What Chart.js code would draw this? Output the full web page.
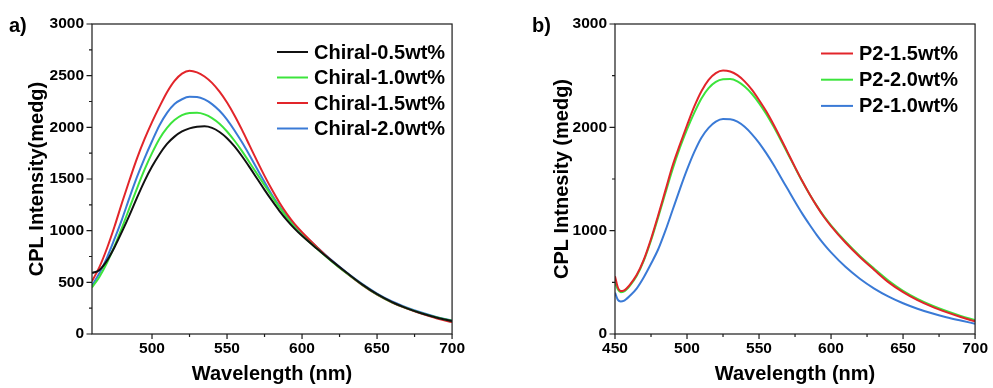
<!DOCTYPE html>
<html>
<head>
<meta charset="utf-8">
<script src="https://cdn.jsdelivr.net/npm/chart.js@4.4.1/dist/chart.umd.min.js"></script>
<style>
  html, body { margin: 0; padding: 0; background: #fff; }
  #wrap { position: relative; width: 993px; height: 388px; overflow: hidden; font-family: "Liberation Sans", Arial, sans-serif; }
  canvas { position: absolute; top: 0; }
  #chartA { left: 0; }
  #chartB { left: 500px; }
  .tag { position: absolute; top: 13px; font-weight: bold; font-size: 20px; line-height: 24px; color: #000; }
</style>
</head>
<body>
<div id="wrap">
  <canvas id="chartA" width="470" height="388"></canvas>
  <canvas id="chartB" width="493" height="388"></canvas>
  <div class="tag" style="left:9px">a)</div>
  <div class="tag" style="left:532px">b)</div>
</div>
<script>
// panel a: wavelength (nm)
const wavelengthA = [460, 465, 470, 475, 480, 485, 490, 495, 500, 505, 510, 515, 520, 525, 530, 535, 540, 545, 550, 555, 560, 565, 570, 575, 580, 585, 590, 595, 600,
  610, 620, 630, 640, 650, 660, 670, 680, 690, 700];
const chiral05 = [590, 620, 710, 840, 990, 1150, 1320, 1480, 1620, 1740, 1840, 1910, 1960, 1990, 2005, 2010, 1995, 1955, 1895, 1815, 1720, 1615, 1505, 1395, 1290, 1190, 1100, 1020, 950,
  825, 705, 590, 480, 385, 308, 248, 198, 158, 125];
const chiral10 = [450, 555, 690, 850, 1030, 1220, 1410, 1590, 1750, 1890, 1995, 2070, 2118, 2138, 2140, 2125, 2090, 2035, 1960, 1870, 1770, 1660, 1550, 1440, 1330, 1225, 1125, 1035, 955,
  825, 700, 585, 478, 383, 306, 248, 200, 160, 127];
const chiral15 = [510, 650, 830, 1040, 1270, 1490, 1700, 1885, 2050, 2200, 2340, 2450, 2520, 2548, 2532, 2492, 2430, 2345, 2240, 2115, 1975, 1825, 1675, 1530, 1395, 1270, 1160, 1065, 985,
  840, 705, 585, 475, 380, 305, 245, 195, 150, 115];
const chiral20 = [470, 590, 740, 920, 1110, 1320, 1520, 1700, 1865, 2020, 2140, 2225, 2272, 2295, 2293, 2270, 2225, 2160, 2075, 1970, 1855, 1730, 1600, 1470, 1345, 1235, 1135, 1050, 978,
  840, 710, 592, 485, 392, 315, 255, 205, 163, 130];

// panel b
const wavelengthB = [450, 452, 454, 456, 458, 460, 465, 470, 475, 480, 485, 490, 495, 500, 505, 510, 515, 520, 525, 530, 535, 540, 545, 550, 555, 560, 565, 570, 575, 580, 585, 590, 595, 600,
  610, 620, 630, 640, 650, 660, 670, 680, 690, 700];
const p2_15 = [560, 450, 415, 420, 440, 470, 570, 720, 920, 1150, 1390, 1630, 1830, 2020, 2200, 2350, 2460, 2525, 2550, 2540, 2505, 2445, 2365, 2265, 2155, 2030, 1895, 1755, 1615, 1480, 1355, 1240, 1135, 1045,
  885, 745, 620, 500, 405, 328, 265, 212, 165, 122];
const p2_20 = [500, 430, 405, 410, 430, 460, 560, 710, 905, 1130, 1365, 1595, 1800, 1980, 2140, 2280, 2380, 2440, 2465, 2468, 2445, 2395, 2325, 2235, 2130, 2010, 1880, 1745, 1610, 1478, 1355, 1242, 1140, 1052,
  895, 755, 632, 515, 418, 340, 276, 222, 175, 135];
const p2_10 = [400, 330, 315, 320, 340, 365, 440, 550, 680, 820, 1000, 1200, 1400, 1590, 1760, 1900, 1995, 2055, 2080, 2078, 2055, 2005, 1935, 1850, 1750, 1640, 1520, 1400, 1280, 1165, 1060, 960, 870, 790,
  650, 535, 440, 362, 298, 245, 200, 162, 130, 100];

const labelsA = ['Chiral-0.5wt%', 'Chiral-1.0wt%', 'Chiral-1.5wt%', 'Chiral-2.0wt%'];
const labelsB = ['P2-1.5wt%', 'P2-2.0wt%', 'P2-1.0wt%'];

// labelled ticks (the rest are minor)
const xLabelsA = [500, 550, 600, 650, 700];
const yLabelsA = [0, 500, 1000, 1500, 2000, 2500, 3000];
const xLabelsB = [450, 500, 550, 600, 650, 700];
const yLabelsB = [0, 1000, 2000, 3000];

const BLACK = '#111111', GREEN = '#3ce43c', RED = '#e2252a', BLUE = '#3a7ad6';
const FONT = '"Liberation Sans", Arial, sans-serif';

function pts(xs, ys) {
  return xs.map((x, i) => ({ x: x, y: ys[i] }));
}

function lineSet(label, xs, ys, color) {
  return {
    label: label,
    data: pts(xs, ys),
    borderColor: color,
    backgroundColor: color,
    borderWidth: 2,
    pointRadius: 0,
    cubicInterpolationMode: 'monotone',
    fill: false
  };
}

// frame on four sides + outward ticks, long for labelled, short for minor
const framePlugin = {
  id: 'frame',
  afterDraw(chart) {
    const { ctx, chartArea: a, scales } = chart;
    const x = scales.x, y = scales.y;
    ctx.save();
    ctx.strokeStyle = '#1a1a1a';
    ctx.lineWidth = 1.2;
    ctx.strokeRect(a.left, a.top, a.right - a.left, a.bottom - a.top);
    ctx.beginPath();
    x.ticks.forEach(t => {
      const px = x.getPixelForValue(t.value);
      const len = t.label ? 5 : 3;
      ctx.moveTo(px, a.bottom);
      ctx.lineTo(px, a.bottom + len);
    });
    y.ticks.forEach(t => {
      const py = y.getPixelForValue(t.value);
      const len = t.label ? 5.5 : 3;
      ctx.moveTo(a.left, py);
      ctx.lineTo(a.left - len, py);
    });
    ctx.stroke();
    ctx.restore();
  }
};

// legend drawn inside the plot, short line + bold label
const legendPlugin = {
  id: 'sideLegend',
  afterDraw(chart, args, opts) {
    const ctx = chart.ctx;
    ctx.save();
    ctx.font = 'bold ' + opts.size + 'px ' + FONT;
    ctx.textBaseline = 'middle';
    ctx.fillStyle = '#000';
    chart.data.datasets.forEach((ds, i) => {
      const yy = opts.top + i * opts.gap;
      ctx.strokeStyle = ds.borderColor;
      ctx.lineWidth = 2;
      ctx.beginPath();
      ctx.moveTo(opts.left, yy);
      ctx.lineTo(opts.left + opts.line, yy);
      ctx.stroke();
      ctx.fillText(ds.label, opts.left + opts.line + opts.space, yy + 1);
    });
    ctx.restore();
  }
};

function makeChart(id, cfg) {
  return new Chart(document.getElementById(id), {
    type: 'line',
    data: { datasets: cfg.datasets },
    plugins: [framePlugin, legendPlugin],
    options: {
      responsive: false,
      animation: false,
      events: [],
      layout: { padding: { left: 0, right: 14, top: 24, bottom: 0 } },
      plugins: {
        legend: { display: false },
        tooltip: { enabled: false },
        sideLegend: cfg.legend
      },
      scales: {
        x: {
          type: 'linear',
          min: cfg.xMin,
          max: 700,
          afterFit: s => { s.height = 54; },
          afterBuildTicks: s => { s.ticks = s.ticks.filter(t => t.value % 25 === 0); },
          grid: { display: false, drawTicks: false },
          border: { display: false },
          ticks: {
            stepSize: 25,
            autoSkip: false,
            maxRotation: 0,
            padding: 5,
            color: '#000',
            font: { family: FONT, size: 15.5, weight: 'bold' },
            callback: v => cfg.xLabels.includes(v) ? String(v) : ''
          },
          title: {
            display: true,
            text: 'Wavelength (nm)',
            color: '#000',
            font: { family: FONT, size: 20, weight: 'bold' },
            padding: { top: 0, bottom: 2 }
          }
        },
        y: {
          min: 0,
          max: 3000,
          afterFit: s => { s.width = cfg.yWidth; },
          grid: { display: false, drawTicks: false },
          border: { display: false },
          ticks: {
            stepSize: cfg.yStep,
            autoSkip: false,
            padding: 8,
            color: '#000',
            font: { family: FONT, size: 15.5, weight: 'bold' },
            callback: v => cfg.yLabels.includes(v) ? String(v) : ''
          },
          title: {
            display: true,
            text: cfg.yTitle,
            color: '#000',
            font: { family: FONT, size: 20, weight: 'bold' },
            padding: { top: cfg.yTitlePad, bottom: 0 }
          }
        }
      }
    }
  });
}

makeChart('chartA', {
  datasets: [
    lineSet(labelsA[0], wavelengthA, chiral05, BLACK),
    lineSet(labelsA[1], wavelengthA, chiral10, GREEN),
    lineSet(labelsA[2], wavelengthA, chiral15, RED),
    lineSet(labelsA[3], wavelengthA, chiral20, BLUE)
  ],
  xMin: 460,
  xLabels: xLabelsA,
  yLabels: yLabelsA,
  yStep: 250,
  yWidth: 92,
  yTitle: 'CPL Intensity(medg)',
  yTitlePad: 25,
  legend: { left: 277, top: 52, gap: 25.5, line: 31, space: 6, size: 20 }
});

makeChart('chartB', {
  datasets: [
    lineSet(labelsB[0], wavelengthB, p2_15, RED),
    lineSet(labelsB[1], wavelengthB, p2_20, GREEN),
    lineSet(labelsB[2], wavelengthB, p2_10, BLUE)
  ],
  xMin: 450,
  xLabels: xLabelsB,
  yLabels: yLabelsB,
  yStep: 500,
  yWidth: 115,
  yTitle: 'CPL Intnesity (medg)',
  yTitlePad: 50,
  legend: { left: 321, top: 53.5, gap: 26.2, line: 32, space: 6, size: 20 }
});
</script>
</body>
</html>
